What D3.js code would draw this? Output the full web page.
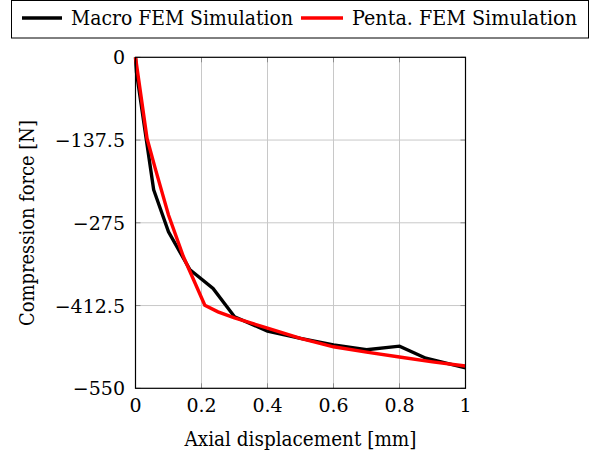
<!DOCTYPE html>
<html>
<head>
<meta charset="utf-8">
<script src="https://cdn.jsdelivr.net/npm/d3@7"></script>
<style>
  html, body { margin: 0; padding: 0; background: #fff; }
  #chart text { font-family: 'DejaVu Serif', 'Liberation Serif', serif; }
</style>
</head>
<body>
<svg id="chart" width="601" height="459"></svg>
<script>
// Axial displacement [mm] vs compression force [N]
const macroX = [0, 0.003, 0.055, 0.1, 0.165, 0.235, 0.3, 0.4, 0.5, 0.6, 0.7, 0.8, 0.88, 1.0];
const macroY = [0, -25, -220, -290, -353, -384, -431, -455, -467, -478, -486, -480, -500, -516];

const pentaX = [0, 0.035, 0.06, 0.1, 0.145, 0.21, 0.25, 0.3, 0.4, 0.5, 0.6, 0.7, 0.8, 0.9, 1.0];
const pentaY = [0, -135, -185, -262, -331, -412, -423, -433, -450, -467, -481, -490, -498, -506, -513];

const xTicks = [0, 0.2, 0.4, 0.6, 0.8, 1];
const yTicks = [0, -137.5, -275, -412.5, -550];
const xTickLabels = ["0", "0.2", "0.4", "0.6", "0.8", "1"];
const yTickLabels = ["0", "\u2212137.5", "\u2212275", "\u2212412.5", "\u2212550"];

const seriesNames = ["Macro FEM Simulation", "Penta. FEM Simulation"];
const seriesColors = ["#000000", "#ff0000"];

const svg = d3.select("#chart");
const plotLeft = 135.5, plotRight = 465.5, plotTop = 57.3, plotBottom = 388.3;

const x = d3.scaleLinear().domain([0, 1]).range([plotLeft, plotRight]);
const y = d3.scaleLinear().domain([-550, 0]).range([plotBottom, plotTop]);

// grid lines
const grid = svg.append("g").attr("stroke", "#c8c8c8").attr("stroke-width", 1);
grid.selectAll("line.gx").data(xTicks.slice(1, -1)).enter().append("line")
  .attr("x1", d => x(d)).attr("x2", d => x(d)).attr("y1", plotTop).attr("y2", plotBottom);
grid.selectAll("line.gy").data(yTicks.slice(1, -1)).enter().append("line")
  .attr("y1", d => y(d)).attr("y2", d => y(d)).attr("x1", plotLeft).attr("x2", plotRight);

// inward tick marks on all four sides
const tickLen = 5;
const tk = svg.append("g").attr("stroke", "#8c8c8c").attr("stroke-width", 1);
xTicks.forEach(d => {
  tk.append("line").attr("x1", x(d)).attr("x2", x(d)).attr("y1", plotBottom).attr("y2", plotBottom - tickLen);
  tk.append("line").attr("x1", x(d)).attr("x2", x(d)).attr("y1", plotTop).attr("y2", plotTop + tickLen);
});
yTicks.forEach(d => {
  tk.append("line").attr("y1", y(d)).attr("y2", y(d)).attr("x1", plotLeft).attr("x2", plotLeft + tickLen);
  tk.append("line").attr("y1", y(d)).attr("y2", y(d)).attr("x1", plotRight).attr("x2", plotRight - tickLen);
});

// data lines
const line = d3.line().x(d => x(d[0])).y(d => y(d[1]));
const series = [
  d3.zip(macroX, macroY),
  d3.zip(pentaX, pentaY)
];
const plot = svg.append("g");
series.forEach((s, i) => {
  plot.append("path").datum(s)
    .attr("d", line)
    .attr("fill", "none")
    .attr("stroke", seriesColors[i])
    .attr("stroke-width", 3.4)
    .attr("stroke-linejoin", "miter")
    .attr("stroke-miterlimit", 3);
});

// axis frame
svg.append("rect").attr("x", plotLeft).attr("y", plotTop)
  .attr("width", plotRight - plotLeft).attr("height", plotBottom - plotTop)
  .attr("fill", "none").attr("stroke", "#000").attr("stroke-width", 1.2);

// tick labels
svg.append("g").selectAll("text").data(xTicks).enter().append("text")
  .attr("x", d => x(d)).attr("y", 412)
  .attr("text-anchor", "middle").attr("font-size", 19)
  .text((d, i) => xTickLabels[i]);
svg.append("g").selectAll("text").data(yTicks).enter().append("text")
  .attr("x", 125).attr("y", d => y(d) + 7)
  .attr("text-anchor", "end").attr("font-size", 19)
  .text((d, i) => yTickLabels[i]);

// axis titles
svg.append("text").attr("x", 300.5).attr("y", 446)
  .attr("text-anchor", "middle").attr("font-size", 19.5)
  .attr("textLength", 232).attr("lengthAdjust", "spacingAndGlyphs")
  .text("Axial displacement [mm]");
svg.append("text")
  .attr("transform", "translate(34,223) rotate(-90)")
  .attr("text-anchor", "middle").attr("font-size", 19.5)
  .attr("textLength", 206).attr("lengthAdjust", "spacingAndGlyphs")
  .text("Compression force [N]");

// legend
const lg = svg.append("g");
lg.append("rect").attr("x", 11.5).attr("y", 0.5).attr("width", 577).attr("height", 37.5)
  .attr("fill", "#fff").attr("stroke", "#000").attr("stroke-width", 1);
const legendItems = [
  { x1: 22, x2: 62, tx: 71, tw: 222 },
  { x1: 301, x2: 343, tx: 352, tw: 225 }
];
legendItems.forEach((it, i) => {
  lg.append("line").attr("x1", it.x1).attr("x2", it.x2).attr("y1", 18).attr("y2", 18)
    .attr("stroke", seriesColors[i]).attr("stroke-width", 3.4);
  lg.append("text").attr("x", it.tx).attr("y", 25).attr("font-size", 19.5)
    .attr("textLength", it.tw).attr("lengthAdjust", "spacingAndGlyphs")
    .text(seriesNames[i]);
});
</script>
</body>
</html>
